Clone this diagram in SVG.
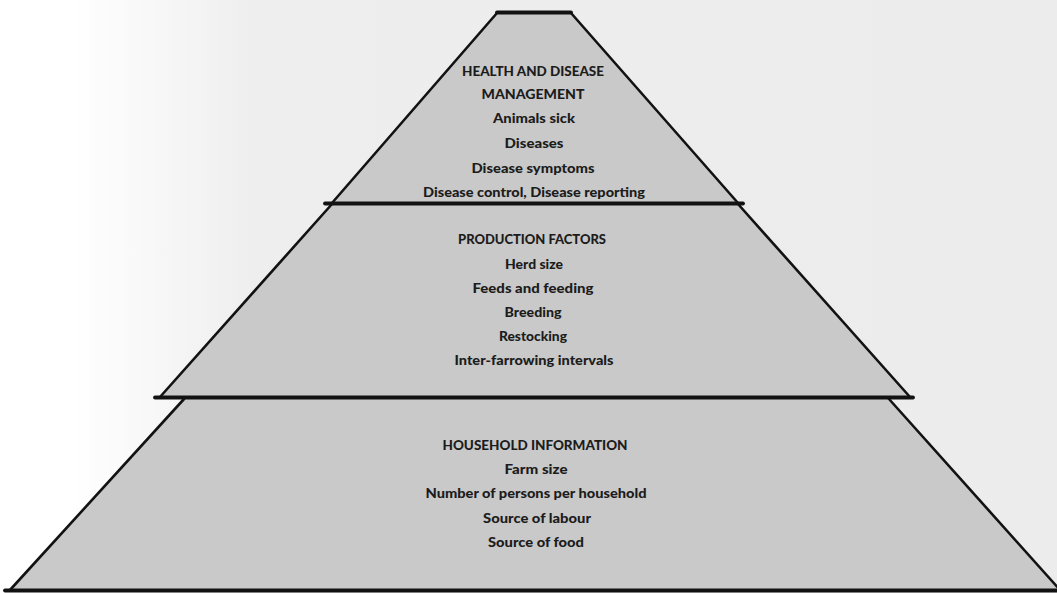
<svg xmlns="http://www.w3.org/2000/svg" width="1057" height="593" viewBox="0 0 1057 593">
  <defs>
    <linearGradient id="bg" x1="0" y1="0" x2="1" y2="0">
      <stop offset="0" stop-color="#ffffff"/>
      <stop offset="0.07" stop-color="#ffffff"/>
      <stop offset="0.24" stop-color="#eeeeee"/>
      <stop offset="1" stop-color="#ececec"/>
    </linearGradient>
    <style>
      .tier { fill: #c9c9c9; }
      .edge { stroke: #121212; stroke-width: 2.6; fill: none; stroke-linecap: round; }
      .rule { stroke: #121212; stroke-width: 3.8; fill: none; stroke-linecap: round; }
      text { font-family: Lato, "Liberation Sans", sans-serif; font-weight: 900; font-size: 12.5px; fill: #1c1c1c; text-anchor: middle; }
    </style>
  </defs>

  <rect x="0" y="0" width="1057" height="593" fill="url(#bg)"/>

  <!-- top tier -->
  <g id="tier-health">
    <polygon class="tier" points="497,13 571,13 738,203 332,203"/>
    <line class="edge" x1="497" y1="13" x2="332" y2="203"/>
    <line class="edge" x1="571" y1="13" x2="738" y2="203"/>
    <line class="rule" x1="497" y1="12.5" x2="571" y2="12.5"/>
    <text x="533" y="76" textLength="142" lengthAdjust="spacingAndGlyphs">HEALTH AND DISEASE</text>
    <text x="533" y="99" textLength="103" lengthAdjust="spacingAndGlyphs">MANAGEMENT</text>
    <text x="534" y="123" textLength="82" lengthAdjust="spacingAndGlyphs">Animals sick</text>
    <text x="534" y="148" textLength="59" lengthAdjust="spacingAndGlyphs">Diseases</text>
    <text x="533" y="173" textLength="123" lengthAdjust="spacingAndGlyphs">Disease symptoms</text>
    <text x="534" y="197" textLength="222" lengthAdjust="spacingAndGlyphs">Disease control, Disease reporting</text>
  </g>

  <!-- middle tier -->
  <g id="tier-production">
    <polygon class="tier" points="332,204 738,204 910,397 160,397"/>
    <line class="edge" x1="332" y1="204" x2="160" y2="397"/>
    <line class="edge" x1="738" y1="204" x2="910" y2="397"/>
    <line class="rule" x1="325" y1="203.5" x2="743" y2="203.5"/>
    <text x="532" y="244" textLength="148" lengthAdjust="spacingAndGlyphs">PRODUCTION FACTORS</text>
    <text x="534" y="269" textLength="58" lengthAdjust="spacingAndGlyphs">Herd size</text>
    <text x="533" y="293" textLength="121" lengthAdjust="spacingAndGlyphs">Feeds and feeding</text>
    <text x="533" y="317" textLength="57" lengthAdjust="spacingAndGlyphs">Breeding</text>
    <text x="533" y="341" textLength="68" lengthAdjust="spacingAndGlyphs">Restocking</text>
    <text x="534" y="365" textLength="159" lengthAdjust="spacingAndGlyphs">Inter-farrowing intervals</text>
  </g>

  <!-- bottom tier -->
  <g id="tier-household">
    <polygon class="tier" points="184,399 889,399 1060,590 10,590"/>
    <line class="edge" x1="184" y1="399" x2="10" y2="590"/>
    <line class="edge" x1="889" y1="399" x2="1060" y2="590"/>
    <line class="rule" x1="155" y1="397.5" x2="913" y2="397.5"/>
    <line class="rule" x1="5" y1="590.5" x2="1057" y2="590.5"/>
    <text x="535" y="450" textLength="185" lengthAdjust="spacingAndGlyphs">HOUSEHOLD INFORMATION</text>
    <text x="536" y="474" textLength="63" lengthAdjust="spacingAndGlyphs">Farm size</text>
    <text x="536" y="498" textLength="221" lengthAdjust="spacingAndGlyphs">Number of persons per household</text>
    <text x="537" y="523" textLength="108" lengthAdjust="spacingAndGlyphs">Source of labour</text>
    <text x="536" y="547" textLength="96" lengthAdjust="spacingAndGlyphs">Source of food</text>
  </g>
</svg>
